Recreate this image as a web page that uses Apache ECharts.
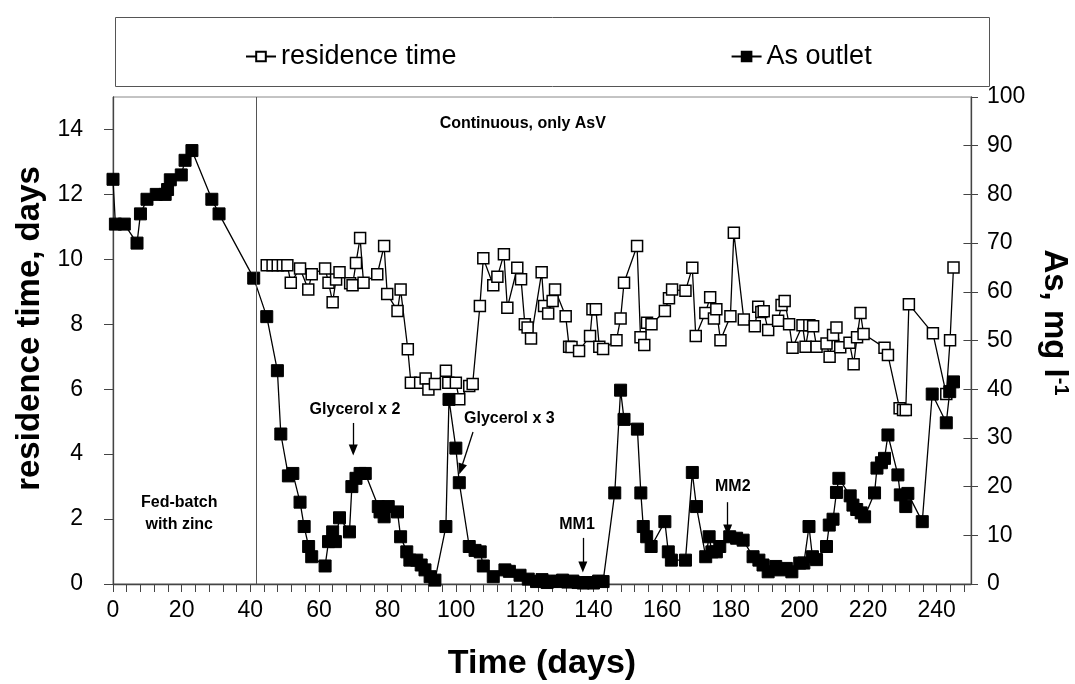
<!DOCTYPE html>
<html><head><meta charset="utf-8">
<script src="https://cdn.jsdelivr.net/npm/echarts@6/dist/echarts.min.js"></script>
<style>html,body{margin:0;padding:0;background:#fff}#c{width:1075px;height:684px}</style>
</head><body><div id="c"></div>
<script>
// ---- data ----
const resDay = [44.8,46.5,48,49.5,50.8,51.8,54.5,56.9,57.9,61.8,
  62.8,64,65,66,69.1,69.8,70.8,72,73,77,
  79,79.9,82.9,83.8,85.9,86.8,89.5,91.1,91.9,93.8,
  97,97.7,99.9,100.9,103.8,104.8,106.9,107.9,110.8,112,
  113.9,114.9,117.8,118.9,120,120.8,121.8,124.9,125.6,126.8,
  128.1,128.8,131.9,132.9,133.6,135.8,139,139.7,140.7,141.7,
  142.8,146.7,147.9,148.9,152.7,153.7,154.8,155.6,156.9,160.8,
  162,162.9,166.8,168.8,169.8,172.6,174,175.1,175.8,177,
  179.9,180.9,183.8,187,188,188.9,189.6,190.9,193.8,194.8,
  195.7,197,198,200.9,201.8,202.9,204,205,207.9,208.8,
  209.8,210.8,211.9,214.6,215.8,216.8,217.8,218.7,224.8,225.8,
  229.2,230.2,231,231.9,238.9,242.8,243.9,244.9];
const resVal = [9.82,9.82,9.82,9.82,9.82,9.28,9.72,9.07,9.54,9.72,
  9.28,8.68,9.38,9.6,9.26,9.2,9.89,10.66,9.28,9.54,
  10.41,8.93,8.41,9.07,7.23,6.2,6.2,6.33,5.99,6.16,
  6.57,6.2,6.2,5.69,6.1,6.16,8.56,10.03,9.2,9.46,
  10.16,8.51,9.74,9.39,8.0,7.9,7.56,9.6,8.56,8.33,
  8.72,9.07,8.25,7.31,7.3,7.18,7.64,8.46,8.46,7.31,
  7.24,7.51,8.18,9.28,10.41,7.6,7.36,8.05,8.0,8.41,
  8.8,9.07,9.03,9.74,7.64,8.35,8.83,8.18,8.46,7.51,
  8.25,10.82,8.15,7.94,8.54,8.38,8.4,7.82,8.11,8.59,
  8.72,8.0,7.28,7.97,7.31,7.97,7.94,7.31,7.41,7.0,
  7.67,7.9,7.29,7.43,6.77,7.6,8.35,7.7,7.28,7.05,
  5.41,5.36,5.36,8.62,7.72,5.85,7.51,9.75];
const asDay = [0,0.7,3.3,7,8,9.9,12.6,15.2,15.9,16.7,
  19.9,21,23,28.8,30.9,41,44.8,47.9,48.9,51.1,
  52.4,54.5,55.7,57,57.9,61.8,62.8,64,64.8,66,
  68.9,69.6,70.8,72,73.5,77.3,77.8,79,80.2,82.9,
  83.8,85.6,86.5,88.5,89.8,90.9,92.4,93.8,97,97.9,
  99.9,100.9,103.8,105.5,107,107.9,110.8,114.2,115.5,118.6,
  121,123.4,125,126.5,128,129.5,131,132.5,134,135.5,
  137,138.5,140,141.5,142.8,146.2,147.9,148.9,152.8,153.8,
  154.5,155.5,156.8,160.8,161.8,162.7,166.8,168.8,170,172.7,
  173.7,174.5,175.8,176.8,179.7,181.7,183.6,186.5,188.2,189.4,
  190.9,193.1,194.5,196.2,197.8,200.1,201.3,202.8,203.8,205,
  207.9,208.7,209.8,210.8,211.5,214.8,215.6,216.7,218,219,
  221.9,222.6,223.9,224.8,225.8,228.7,229.4,231,231.6,235.8,
  238.7,242.8,243.8,244.9];
const asVal = [83.1,73.9,73.9,70,76,79,80,80,81,83,
  84,87,89,79,76,62.8,54.9,43.8,30.8,22.2,
  22.7,16.8,11.8,7.7,5.6,3.7,8.7,10.7,8.7,13.6,
  10.7,20,21.7,22.7,22.7,15.9,14.8,13.8,15.9,14.8,
  9.7,6.6,4.9,4.9,3.9,2.9,1.5,0.8,11.8,37.9,
  27.9,20.8,7.7,6.9,6.6,3.7,1.5,2.9,2.6,1.8,
  1.0,0.5,0.9,0.3,0.6,0.5,0.8,0.4,0.6,0.3,
  0.2,0.3,0.2,0.6,0.5,18.7,39.8,33.8,31.8,18.7,
  11.8,9.7,7.7,12.8,6.6,4.9,4.9,22.9,15.9,5.6,
  9.7,6.6,6.6,7.7,9.7,9.4,9,5.6,4.9,3.9,
  2.5,3.6,2.9,3.2,2.5,4.3,4.3,11.8,5.6,5.0,
  7.7,12.1,13.3,18.8,21.7,18.1,16.2,15.3,14.6,13.8,
  18.7,23.8,24.9,25.8,30.6,22.4,18.3,15.9,18.6,12.8,
  39,33.1,39.5,41.5];
const xTickValues = [];
for (let v = 0; v <= 248; v += 4) xTickValues.push(v);
const xLabelValues = [0,20,40,60,80,100,120,140,160,180,200,220,240];
const leftTickValues = [0,2,4,6,8,10,12,14];
const rightTickValues = [0,10,20,30,40,50,60,70,80,90,100];
const xMax = 250;
const phaseChangeDay = 41.6;
// annotations in data coordinates (x: days, y: residence-time axis)
const notes = [
  {text:'Continuous, only AsV', x:119.4, y:14.19},
  {text:'Fed-batch\nwith zinc', x:19.3, y:2.16},
  {text:'Glycerol x 2', x:70.5, y:5.36},
  {text:'Glycerol x 3', x:115.5, y:5.11},
  {text:'MM1', x:135.2, y:1.82},
  {text:'MM2', x:180.6, y:2.99}
];
const arrows = [
  [[70,4.96],[70,4.13]],
  [[104.9,4.68],[101.4,3.54]],
  [[136.9,1.42],[136.9,0.52]],
  [[179.1,2.52],[179.1,1.66]]
];
// ---- chart ----
const FONT = "'Liberation Sans', Arial, sans-serif";
const zip = (a,b) => a.map((v,i)=>[v,b[i]]);
const chart = echarts.init(document.getElementById('c'), null, {renderer:'canvas'});
const axisLineStyle = {color:'#444', width:1.3};
const tickInDays = 2.2; // inner half of the right-axis cross ticks
const option = {
  animation:false,
  backgroundColor:'#fff',
  textStyle:{fontFamily:FONT},
  grid:{left:113, right:104, top:97, bottom:100, show:true, borderColor:'#888', borderWidth:1,
        outerBoundsMode:'none', containLabel:false},
  legend:{
    data:['residence time','As outlet'],
    left:240, top:38, itemGap:274, itemWidth:30, itemHeight:12,
    textStyle:{fontSize:27, color:'#000', fontFamily:FONT}
  },
  xAxis:{
    type:'value', min:0, max:xMax,
    name:'Time (days)', nameLocation:'middle', nameGap:63,
    nameTextStyle:{fontSize:34, fontWeight:'bold', color:'#000', fontFamily:FONT},
    axisLine:{show:true, onZero:false, lineStyle:axisLineStyle},
    axisTick:{show:true, length:8, customValues:xTickValues, lineStyle:{color:'#444'}},
    axisLabel:{customValues:xLabelValues, fontSize:23, color:'#000', margin:15, fontFamily:FONT},
    splitLine:{show:false}
  },
  yAxis:[
    {
      type:'value', min:0, max:15, position:'left',
      name:'residence time, days', nameLocation:'middle', nameGap:56, nameRotate:90,
      nameTextStyle:{fontSize:33, fontWeight:'bold', color:'#000', fontFamily:FONT, padding:[0,0,0,24]},
      axisLine:{show:true, onZero:false, lineStyle:axisLineStyle},
      axisTick:{show:true, length:9, customValues:leftTickValues, lineStyle:{color:'#444'}},
      axisLabel:{customValues:leftTickValues, fontSize:23, color:'#000', margin:30, fontFamily:FONT},
      splitLine:{show:false}
    },
    {
      type:'value', min:0, max:100, position:'right',
      name:'As, mg l{sup|-1}', nameLocation:'middle', nameGap:66, nameRotate:-90,
      nameTextStyle:{fontSize:33, fontWeight:'bold', color:'#000', fontFamily:FONT, padding:[0,36,0,0],
        rich:{sup:{fontSize:20, fontWeight:'bold', verticalAlign:'top', padding:[0,0,14,0], color:'#000', fontFamily:FONT}}},
      axisLine:{show:true, onZero:false, lineStyle:axisLineStyle},
      axisTick:{show:true, length:7, customValues:rightTickValues, lineStyle:{color:'#444'}},
      axisLabel:{customValues:rightTickValues, fontSize:23, color:'#000', margin:16, fontFamily:FONT},
      splitLine:{show:false}
    }
  ],
  series:[
    {
      name:'residence time', type:'line', xAxisIndex:0, yAxisIndex:0,
      data: zip(resDay, resVal),
      symbol:'rect', symbolSize:11,
      lineStyle:{color:'#000', width:1.3},
      itemStyle:{color:'#fff', borderColor:'#000', borderWidth:1.5},
      z:3,
      markLine:{
        silent:true, animation:false,
        symbol:['none','none'],
        label:{show:false},
        lineStyle:{color:'#555', width:1, type:'solid'},
        data:[{xAxis:phaseChangeDay}]
      }
    },
    {
      name:'As outlet', type:'line', xAxisIndex:0, yAxisIndex:1,
      data: zip(asDay, asVal),
      symbol:'rect', symbolSize:12,
      lineStyle:{color:'#000', width:1.3},
      itemStyle:{color:'#000', borderColor:'#000', borderWidth:1},
      z:4,
      markLine:{
        silent:true, animation:false,
        symbol:['none','none'],
        label:{show:false},
        lineStyle:{color:'#444', width:1, type:'solid'},
        data: rightTickValues.filter(v => v < 100).map(v => [{coord:[xMax - tickInDays, v]},{coord:[xMax, v]}])
      }
    },
    {
      name:'arrows', type:'line', xAxisIndex:0, yAxisIndex:0, data:[],
      markLine:{
        silent:true, animation:false,
        symbol:['none','triangle'], symbolSize:[9,11],
        label:{show:false},
        lineStyle:{color:'#000', width:1.3, type:'solid'},
        data: arrows.map(a => [{coord:a[0]},{coord:a[1]}])
      }
    }
  ]
};
chart.setOption(option);
const g = [{
  type:'rect', left:113, top:15, silent:true,
  shape:{width:874, height:69},
  style:{fill:'none', stroke:'#555', lineWidth:1}
}];
notes.forEach(n => {
  const p = chart.convertToPixel({xAxisIndex:0, yAxisIndex:0}, [n.x, n.y]);
  g.push({type:'text', x:p[0], y:p[1], silent:true,
    style:{text:n.text, fill:'#000', font:"bold 16px " + FONT, align:'center', verticalAlign:'middle', lineHeight:22}});
});
chart.setOption({graphic:g});
</script>
</body></html>
